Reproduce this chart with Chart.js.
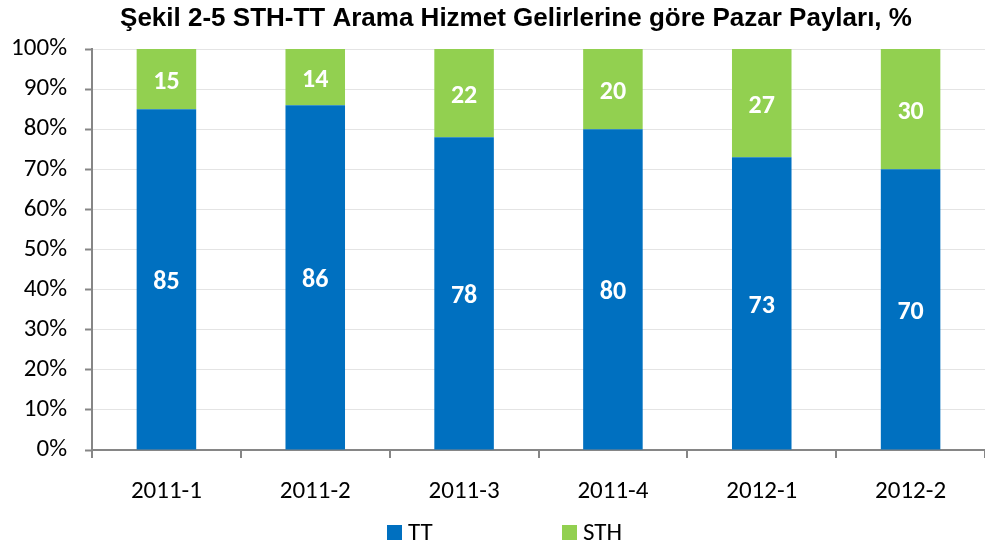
<!DOCTYPE html>
<html>
<head>
<meta charset="utf-8">
<script src="https://cdn.jsdelivr.net/npm/chart.js@4/dist/chart.umd.min.js"></script>
<style>
  html, body { margin: 0; padding: 0; background: #fff; }
  #wrap { width: 985px; height: 550px; }
</style>
</head>
<body>
<div id="wrap"><canvas id="chart" width="985" height="550"></canvas></div>
<script>
const chartTitle = 'Şekil 2-5 STH-TT Arama Hizmet Gelirlerine göre Pazar Payları, %';
const periods = ['2011-1', '2011-2', '2011-3', '2011-4', '2012-1', '2012-2'];
const ttShare = [85, 86, 78, 80, 73, 70];
const sthShare = [15, 14, 22, 20, 27, 30];
const yTicks = [0, 10, 20, 30, 40, 50, 60, 70, 80, 90, 100];

const labelFont = 'Carlito, "Open Sans", sans-serif';

// title sits a bit right of the canvas centre in the original, so draw it here
const topTitle = {
  id: 'topTitle',
  afterDraw (chart) {
    const ctx = chart.ctx;
    ctx.save();
    ctx.fillStyle = '#000';
    ctx.font = 'bold 26px "Liberation Sans", Arial, sans-serif';
    ctx.textAlign = 'center';
    ctx.textBaseline = 'middle';
    ctx.fillText(chartTitle, 516, 19);
    ctx.restore();
  }
};

// white numbers in the middle of each bar segment
const barLabels = {
  id: 'barLabels',
  afterDatasetsDraw (chart) {
    const ctx = chart.ctx;
    ctx.save();
    ctx.fillStyle = '#fff';
    ctx.font = 'bold 26px ' + labelFont;
    ctx.textAlign = 'center';
    ctx.textBaseline = 'middle';
    chart.data.datasets.forEach((ds, i) => {
      chart.getDatasetMeta(i).data.forEach((bar, j) => {
        ctx.fillText(String(ds.data[j]), bar.x, (bar.y + bar.base) / 2 + 3);
      });
    });
    ctx.restore();
  }
};

// legend under the axis, drawn by hand to get the wide gap
const bottomLegend = {
  id: 'bottomLegend',
  afterDraw (chart) {
    const ctx = chart.ctx;
    const starts = [387, 562];
    ctx.save();
    ctx.font = '25px ' + labelFont;
    ctx.textBaseline = 'middle';
    ctx.textAlign = 'left';
    chart.data.datasets.forEach((ds, i) => {
      const x = starts[i];
      ctx.fillStyle = ds.backgroundColor;
      ctx.fillRect(x, 525, 15, 15);
      ctx.fillStyle = '#000';
      ctx.fillText(ds.label, x + 21, 534);
    });
    ctx.restore();
  }
};

new Chart(document.getElementById('chart').getContext('2d'), {
  type: 'bar',
  data: {
    labels: periods,
    datasets: [
      { label: 'TT', data: ttShare, backgroundColor: '#0070C0', barPercentage: 0.4, categoryPercentage: 1 },
      { label: 'STH', data: sthShare, backgroundColor: '#92D050', barPercentage: 0.4, categoryPercentage: 1 }
    ]
  },
  options: {
    responsive: false,
    animation: false,
    layout: { padding: { left: 0, right: 0, top: 49, bottom: 0 } },
    plugins: {
      legend: { display: false },
      tooltip: { enabled: false },
      title: { display: false }
    },
    scales: {
      x: {
        stacked: true,
        grid: { offset: true, drawOnChartArea: false, tickLength: 8, color: '#868686', lineWidth: 2 },
        border: { color: '#868686', width: 2 },
        ticks: { color: '#000', font: { family: labelFont, size: 25 }, padding: 19 },
        afterFit (scale) { scale.height = 100; }
      },
      y: {
        stacked: true,
        min: 0,
        max: 100,
        afterBuildTicks (scale) { scale.ticks = yTicks.map(v => ({ value: v })); },
        grid: { color: '#e4e4e4', tickLength: 7, tickColor: '#868686', tickWidth: 2 },
        border: { color: '#868686', width: 2 },
        ticks: { color: '#000', font: { family: labelFont, size: 25 }, padding: 18, callback: v => v + '%' },
        afterFit (scale) { scale.width = 92; }
      }
    }
  },
  plugins: [barLabels, bottomLegend, topTitle]
});
</script>
</body>
</html>
